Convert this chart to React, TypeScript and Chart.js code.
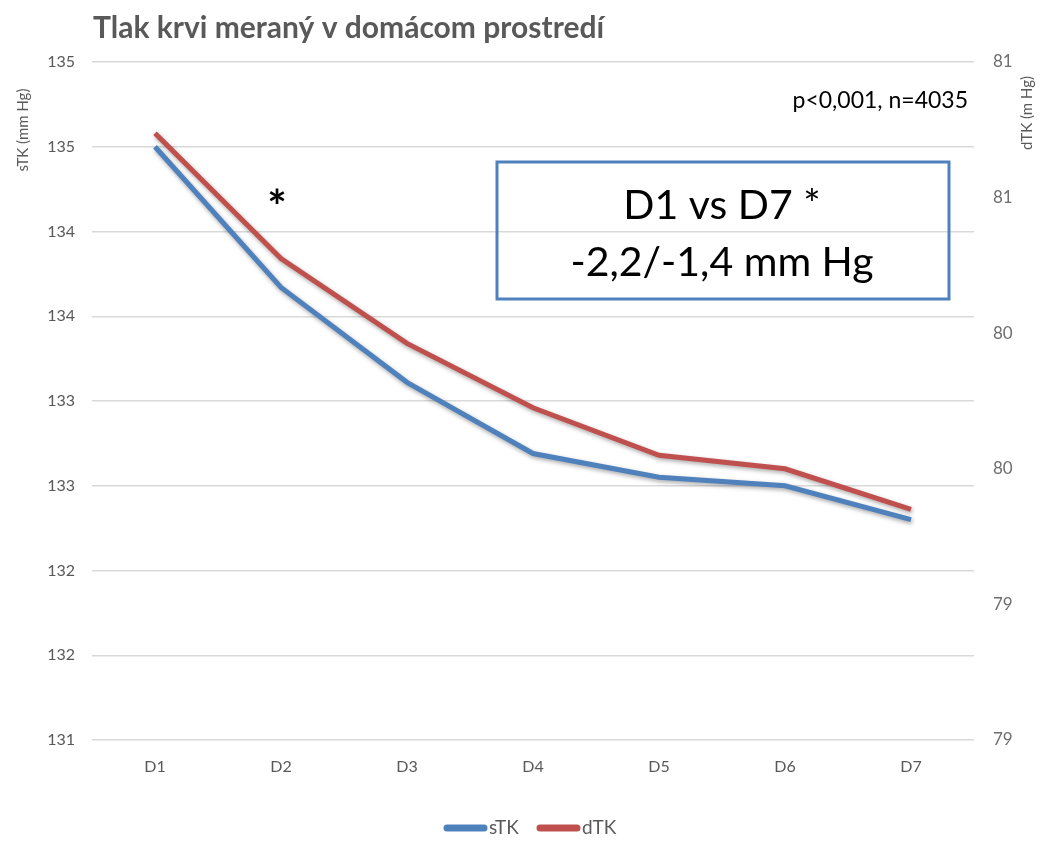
import React, { useEffect, useRef } from "react";
import { Chart, registerables } from "chart.js";

Chart.register(...registerables);

const categories = ["D1", "D2", "D3", "D4", "D5", "D6", "D7"];
const sTK = [134.5, 133.67, 133.11, 132.69, 132.55, 132.5, 132.3];
const dTK = [80.79, 80.42, 80.17, 79.98, 79.84, 79.8, 79.68];
const titleText = "Tlak krvi meraný v domácom prostredí";
const leftAxisTitle = "sTK (mm Hg)";
const rightAxisTitle = "dTK (m Hg)";
const noteText = "p<0,001, n=4035";
const boxLine1 = "D1 vs D7 *";
const boxLine2 = "-2,2/-1,4 mm Hg";

const BLUE = "#4F81BD";
const RED = "#C0504D";
const GREY = "#595959";
const FONT = "Lato, 'Open Sans', sans-serif";

const shadowPlugin = {
  id: "lineShadow",
  beforeDatasetDraw(chart: any) {
    const ctx = chart.ctx;
    ctx.save();
    ctx.shadowColor = "rgba(0,0,0,0.35)";
    ctx.shadowBlur = 4;
    ctx.shadowOffsetX = 1;
    ctx.shadowOffsetY = 2;
  },
  afterDatasetDraw(chart: any) {
    chart.ctx.restore();
  },
};

const decorPlugin = {
  id: "decor",
  afterDraw(chart: any) {
    const ctx = chart.ctx;
    ctx.save();
    // Title
    ctx.fillStyle = GREY;
    ctx.font = `bold 30px ${FONT}`;
    ctx.textAlign = "left";
    ctx.textBaseline = "middle";
    const tw = ctx.measureText(titleText).width;
    const sx = Math.min(1, 512 / tw);
    ctx.save();
    ctx.translate(93, 28);
    ctx.scale(sx, 1);
    ctx.fillText(titleText, 0, 0);
    ctx.restore();

    // Axis titles
    ctx.font = `15px ${FONT}`;
    ctx.fillStyle = GREY;
    ctx.textAlign = "center";
    ctx.save();
    ctx.translate(23, 130);
    ctx.rotate(-Math.PI / 2);
    ctx.fillText(leftAxisTitle, 0, 0);
    ctx.restore();
    ctx.save();
    ctx.translate(1027, 113);
    ctx.rotate(-Math.PI / 2);
    ctx.fillText(rightAxisTitle, 0, 0);
    ctx.restore();

    // Note
    ctx.fillStyle = "#000";
    ctx.font = `23px ${FONT}`;
    ctx.textAlign = "right";
    ctx.fillText(noteText, 968, 101);

    // Asterisk near D2
    ctx.font = `bold 46px ${FONT}`;
    ctx.textAlign = "center";
    ctx.fillText("*", 277, 208);

    // Box
    ctx.strokeStyle = BLUE;
    ctx.lineWidth = 3;
    ctx.strokeRect(497, 162, 452, 137);
    ctx.fillStyle = "#000";
    ctx.font = `41px ${FONT}`;
    ctx.textAlign = "center";
    ctx.fillText(boxLine1, 722, 206);
    ctx.fillText(boxLine2, 722, 263);

    // Legend
    const ly = 828;
    const items = [
      { x: 444, color: BLUE, text: "sTK" },
      { x: 537, color: RED, text: "dTK" },
    ];
    ctx.font = `19px ${FONT}`;
    ctx.textAlign = "left";
    ctx.lineCap = "round";
    items.forEach((it) => {
      ctx.strokeStyle = it.color;
      ctx.lineWidth = 7;
      ctx.beginPath();
      ctx.moveTo(it.x + 3, ly);
      ctx.lineTo(it.x + 40, ly);
      ctx.stroke();
      ctx.fillStyle = GREY;
      ctx.fillText(it.text, it.x + 45, ly);
    });
    ctx.restore();
  },
};

export default function App() {
  const ref = useRef<HTMLCanvasElement | null>(null);
  useEffect(() => {
    if (!ref.current) return;
    const chart = new Chart(ref.current, {
      type: "line",
      data: {
        labels: categories,
        datasets: [
          {
            label: "sTK",
            data: sTK,
            borderColor: BLUE,
            backgroundColor: BLUE,
            borderWidth: 5,
            pointRadius: 0,
            tension: 0,
            yAxisID: "y",
          },
          {
            label: "dTK",
            data: dTK,
            borderColor: RED,
            backgroundColor: RED,
            borderWidth: 5,
            pointRadius: 0,
            tension: 0,
            yAxisID: "y1",
          },
        ],
      },
      options: {
        responsive: false,
        animation: false,
        layout: { padding: { top: 62, bottom: 0, left: 0, right: 0 } },
        plugins: {
          legend: { display: false },
          title: { display: false },
          tooltip: { enabled: false },
        },
        scales: {
          x: {
            offset: true,
            grid: { display: false, drawTicks: false },
            border: { display: false },
            ticks: { color: GREY, font: { family: FONT, size: 16 }, padding: 17 },
            afterFit: (s: any) => {
              s.height = 101;
            },
          },
          y: {
            position: "left",
            min: 131,
            max: 135,
            grid: { color: "#d9d9d9", lineWidth: 1.5, drawTicks: false },
            border: { display: false },
            ticks: {
              stepSize: 0.5,
              color: GREY,
              font: { family: FONT, size: 16 },
              padding: 17,
              callback: (v: any) => String(Math.round(Number(v))),
            },
            afterFit: (s: any) => {
              s.width = 92;
            },
          },
          y1: {
            position: "right",
            min: 79,
            max: 81,
            grid: { display: false, drawTicks: false },
            border: { display: false },
            ticks: {
              stepSize: 0.4,
              color: "#6f6f6f",
              font: { family: FONT, size: 17 },
              padding: 19,
              callback: (v: any) => String(Math.round(Number(v))),
            },
            afterFit: (s: any) => {
              s.width = 69;
            },
          },
        },
      },
      plugins: [shadowPlugin, decorPlugin],
    });
    return () => chart.destroy();
  }, []);
  return (
    <div style={{ position: "absolute", left: 0, top: 0, width: 1043, height: 841, background: "#fff" }}>
      <canvas ref={ref} width={1043} height={841} />
    </div>
  );
}
